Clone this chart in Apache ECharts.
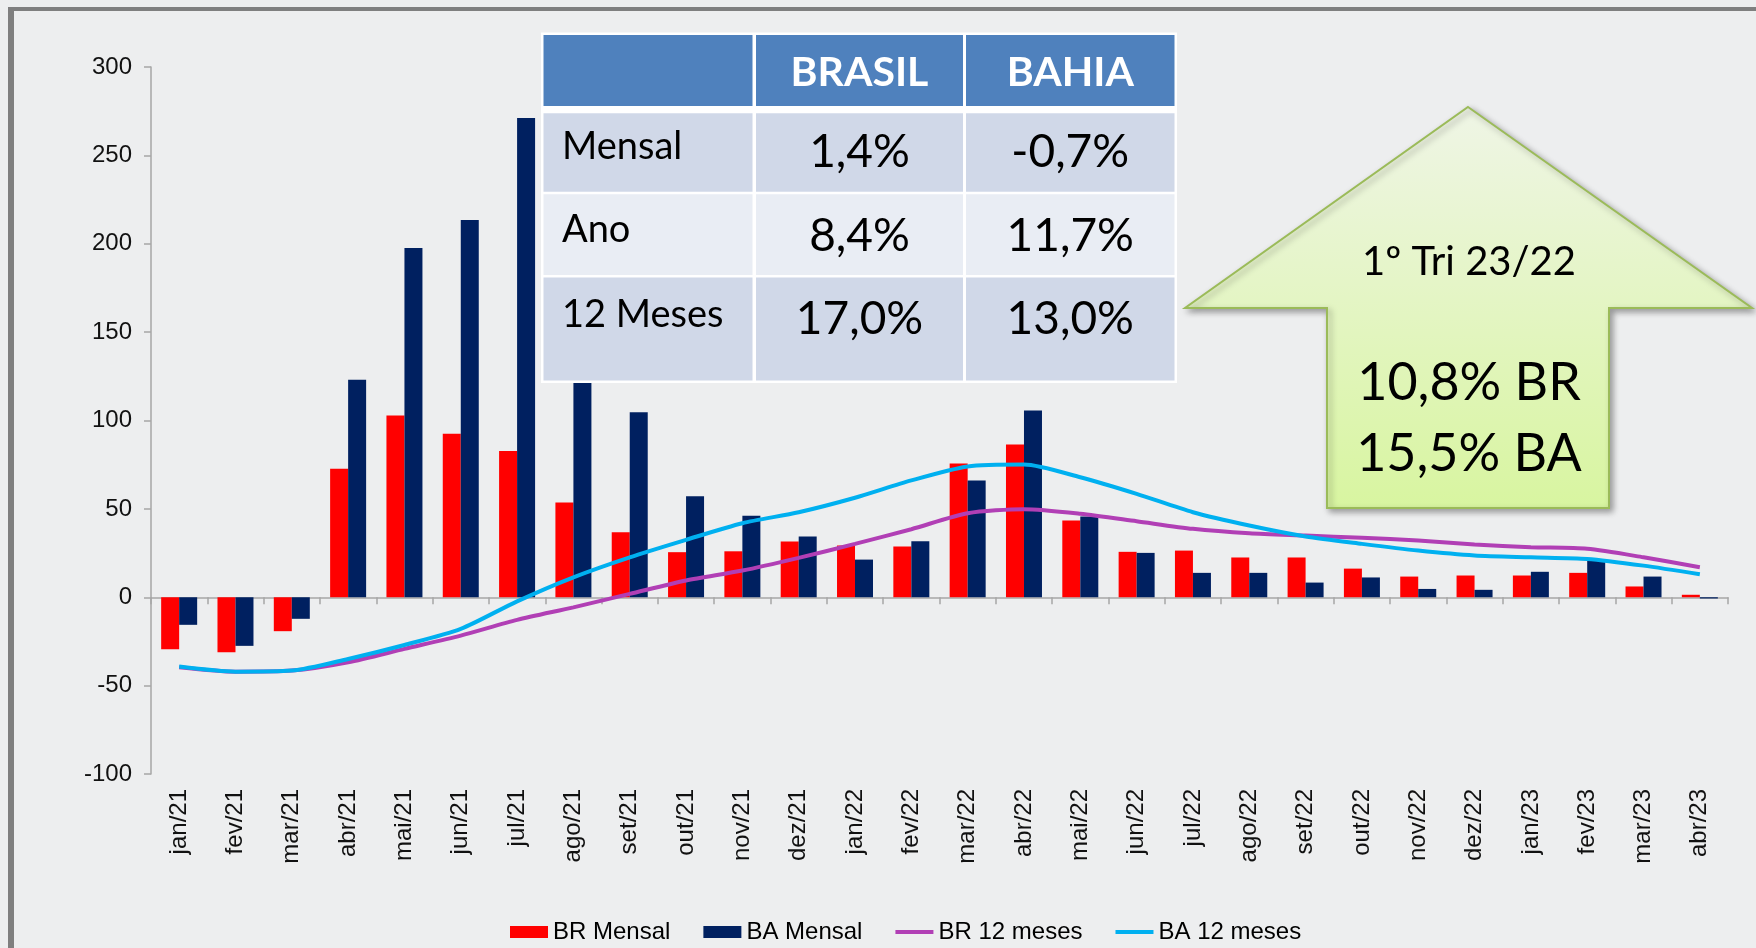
<!DOCTYPE html>
<html>
<head>
<meta charset="utf-8">
<title>BR x BA mensal</title>
<script src="https://cdn.jsdelivr.net/npm/echarts@6/dist/echarts.min.js"></script>
<style>
  html, body { margin: 0; padding: 0; background: #edeeef; }
  #chart { width: 1756px; height: 948px; }
</style>
</head>
<body>
<div id="chart"></div>
<script>
// meses do eixo x
const months = [
  "jan/21", "fev/21", "mar/21", "abr/21", "mai/21", "jun/21", "jul/21",
  "ago/21", "set/21", "out/21", "nov/21", "dez/21", "jan/22", "fev/22",
  "mar/22", "abr/22", "mai/22", "jun/22", "jul/22", "ago/22", "set/22",
  "out/22", "nov/22", "dez/22", "jan/23", "fev/23", "mar/23", "abr/23"
];
// variação mensal (barras)
const brMensal = [
  -29.4, -31.1, -19.2, 72.7, 102.8, 92.5, 82.8, 53.6, 36.8, 25.5, 26.0, 31.5,
  29.3, 28.7, 75.7, 86.4, 43.4, 25.7, 26.4, 22.5, 22.5, 16.2, 11.7, 12.3,
  12.3, 13.8, 6.1, 1.4
];
const baMensal = [
  -15.6, -27.5, -12.2, 123.0, 197.6, 213.4, 271.1, 160.0, 104.7, 57.2, 46.1,
  34.4, 21.3, 31.7, 66.1, 105.7, 45.7, 25.1, 13.8, 13.8, 8.3, 11.2, 4.7, 4.2,
  14.4, 20.8, 11.7, -0.7
];
// acumulado 12 meses (linhas)
const br12 = [
  -39.6, -42.1, -41.5, -36.8, -29.2, -21.7, -12.8, -5.7, 1.9, 9.5, 15.1, 22.3,
  30.2, 38.5, 47.5, 49.8, 47.2, 43.0, 38.7, 36.2, 34.9, 33.6, 32.1, 29.8, 28.3,
  27.4, 22.6, 17.0
];
const ba12 = [
  -39.2, -42.1, -41.5, -34.9, -27.0, -17.9, -2.3, 11.3, 22.6, 32.5, 41.9, 48.1,
  56.3, 66.1, 74.0, 75.1, 67.9, 58.5, 48.1, 40.6, 34.4, 30.2, 26.4, 23.6, 22.6,
  21.7, 17.9, 13.0
];
// tabela resumo
const tableHead = ["", "BRASIL", "BAHIA"];
const tableRows = ["Mensal", "Ano", "12 Meses"];
const tableBrasil = ["1,4%", "8,4%", "17,0%"];
const tableBahia = ["-0,7%", "11,7%", "13,0%"];
// seta
const arrowTitle = "1º Tri 23/22";
const arrowLines = ["10,8% BR", "15,5% BA"];

const axisFont = "Liberation Sans";
const boxFont = "Lato";
const TOP = 100; // z dos desenhos por cima do gráfico

const myChart = echarts.init(document.getElementById("chart"));

function txt(x, y, text, font, fill, align) {
  return {
    type: "text",
    z: TOP + 2,
    x: x,
    y: y,
    style: {
      text: text,
      font: font,
      fill: fill,
      align: align,
      verticalAlign: "middle"
    }
  };
}

// monta a tabela como elementos graphic
function getTable() {
  const colX = [543.5, 756, 966];
  const colW = [209, 207, 208.5];
  const rowY = [35, 113.3, 194.3, 277.5];
  const rowH = [71, 78.4, 80.7, 103];
  const rowFill = ["#4f81bd", "#d0d8e8", "#e9edf4", "#d0d8e8"];
  const els = [];
  els.push({
    type: "rect",
    z: TOP,
    shape: { x: 541, y: 32.5, width: 636, height: 350.5 },
    style: { fill: "#ffffff" }
  });
  for (let r = 0; r < 4; r++) {
    for (let c = 0; c < 3; c++) {
      els.push({
        type: "rect",
        z: TOP + 1,
        shape: { x: colX[c], y: rowY[r], width: colW[c], height: rowH[r] },
        style: { fill: rowFill[r] }
      });
    }
  }
  // cabeçalho
  for (let c = 1; c < 3; c++) {
    els.push(txt(colX[c] + colW[c] / 2, 73, tableHead[c], "bold 41px " + boxFont, "#ffffff", "center"));
  }
  const labelY = [147, 230, 315];
  const valueY = [152, 236, 319];
  for (let r = 0; r < 3; r++) {
    els.push(txt(562, labelY[r], tableRows[r], "38px " + boxFont, "#000000", "left"));
    els.push(txt(colX[1] + colW[1] / 2, valueY[r], tableBrasil[r], "46px " + boxFont, "#000000", "center"));
    els.push(txt(colX[2] + colW[2] / 2, valueY[r], tableBahia[r], "46px " + boxFont, "#000000", "center"));
  }
  return els;
}

// seta verde com o resultado do trimestre
function getArrow() {
  const els = [];
  els.push({
    type: "polygon",
    z: TOP,
    shape: {
      points: [
        [1468, 107], [1752, 308], [1609, 308], [1609, 508],
        [1327, 508], [1327, 308], [1185, 308]
      ]
    },
    style: {
      fill: new echarts.graphic.LinearGradient(0, 0, 0, 1, [
        { offset: 0, color: "#eff5e6" },
        { offset: 1, color: "#d8f5a0" }
      ]),
      stroke: "#9bbb59",
      lineWidth: 2,
      shadowBlur: 6,
      shadowOffsetX: 3,
      shadowOffsetY: 3,
      shadowColor: "rgba(0,0,0,0.35)"
    }
  });
  els.push(txt(1469, 262, arrowTitle, "40px " + boxFont, "#000000", "center"));
  els.push(txt(1469, 383, arrowLines[0], "52px " + boxFont, "#000000", "center"));
  els.push(txt(1469, 454, arrowLines[1], "52px " + boxFont, "#000000", "center"));
  return els;
}

// moldura cinza (topo e esquerda)
const frame = [
  { type: "rect", z: TOP, shape: { x: 8, y: 7, width: 1748, height: 4 }, style: { fill: "#7f7f7f" } },
  { type: "rect", z: TOP, shape: { x: 8, y: 7, width: 6, height: 941 }, style: { fill: "#7f7f7f" } }
];

const lineIcon = "path://M0,0 L40,0 L40,4 L0,4 Z";

const option = {
  backgroundColor: "#edeeef",
  animation: false,
  grid: { left: 151, right: 28, top: 67, bottom: 174 },
  legend: {
    left: 510,
    top: 920,
    padding: 0,
    itemWidth: 38,
    itemHeight: 12,
    itemGap: 33,
    textStyle: { fontFamily: axisFont, fontSize: 24, color: "#000" },
    data: [
      { name: "BR Mensal", icon: "rect" },
      { name: "BA Mensal", icon: "rect" },
      { name: "BR 12 meses", icon: lineIcon },
      { name: "BA 12 meses", icon: lineIcon }
    ]
  },
  xAxis: [
    {
      // linha no zero com marcas entre categorias
      type: "category",
      data: months,
      axisLine: { onZero: true, lineStyle: { color: "#a6a6a6", width: 1.5 } },
      axisTick: { show: true, length: 7, lineStyle: { color: "#a6a6a6", width: 1.5 } },
      axisLabel: { show: false }
    },
    {
      // rótulos na base do gráfico
      type: "category",
      data: months,
      position: "bottom",
      axisLine: { show: false, onZero: false },
      axisTick: { show: false },
      axisLabel: {
        rotate: 90,
        margin: 15,
        fontFamily: axisFont,
        fontSize: 24,
        color: "#111"
      }
    }
  ],
  yAxis: {
    type: "value",
    min: -100,
    max: 300,
    interval: 50,
    splitLine: { show: false },
    axisLine: { show: true, lineStyle: { color: "#a6a6a6", width: 1.5 } },
    axisTick: { show: true, length: 7, lineStyle: { color: "#a6a6a6", width: 1.5 } },
    axisLabel: { margin: 19, fontFamily: axisFont, fontSize: 24, color: "#111" }
  },
  series: [
    {
      name: "BR Mensal",
      type: "bar",
      xAxisIndex: 0,
      barWidth: 18,
      barGap: "0%",
      itemStyle: { color: "#ff0000" },
      data: brMensal
    },
    {
      name: "BA Mensal",
      type: "bar",
      xAxisIndex: 0,
      barWidth: 18,
      barGap: "0%",
      itemStyle: { color: "#002060" },
      data: baMensal
    },
    {
      name: "BR 12 meses",
      type: "line",
      xAxisIndex: 0,
      symbol: "none",
      smooth: 0.25,
      lineStyle: { color: "#b13fb5", width: 4 },
      itemStyle: { color: "#b13fb5" },
      data: br12
    },
    {
      name: "BA 12 meses",
      type: "line",
      xAxisIndex: 0,
      symbol: "none",
      smooth: 0.25,
      lineStyle: { color: "#00b0f0", width: 4 },
      itemStyle: { color: "#00b0f0" },
      data: ba12
    }
  ],
  graphic: {
    elements: [].concat(frame, getTable(), getArrow())
  }
};

myChart.setOption(option);
</script>
</body>
</html>
